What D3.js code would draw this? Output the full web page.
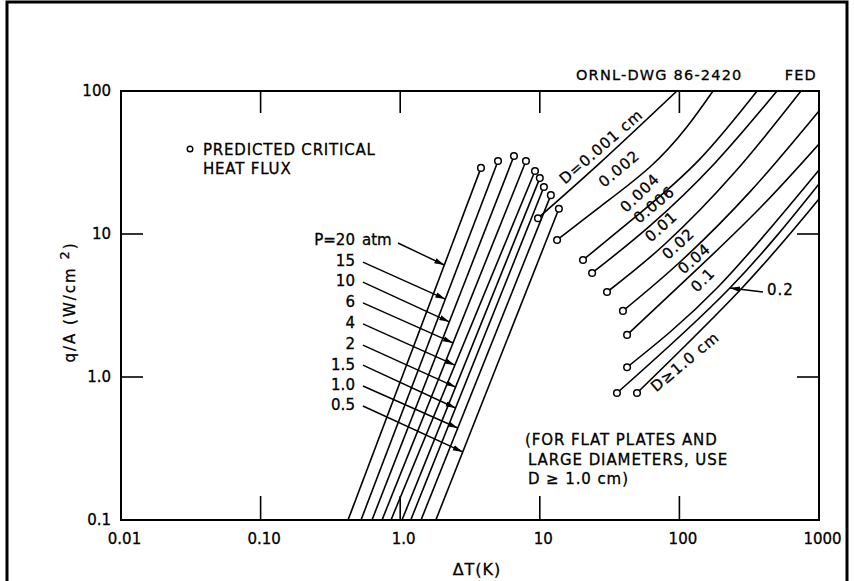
<!DOCTYPE html>
<html>
<head>
<meta charset="utf-8">
<script src="https://cdn.jsdelivr.net/npm/d3@7"></script>
<style>
  body { margin: 0; background: #fff; }
  svg text { font-family: "DejaVu Sans", sans-serif; fill: #000; stroke: #000; stroke-width: 0.3px; }
</style>
</head>
<body>
<div id="chart"></div>
<script>
///// DATA /////
const xTicks = [0.01, 0.1, 1, 10, 100, 1000];
const xTickLabels = ["0.01", "0.10", "1.0", "10", "100", "1000"];
const yTicks = [0.1, 1, 10, 100];
const yTickLabels = ["0.1", "1.0", "10", "100"];

// nucleate boiling lines, one per pressure (atm)
const pressures = ["20", "15", "10", "6", "4", "2", "1.5", "1.0", "0.5"];
const pLowT = [0.423, 0.524, 0.628, 0.741, 0.859, 1.03, 1.19, 1.41, 1.80]; // dT where q/A = 0.1
const pChfT = [3.79, 5.02, 6.53, 7.96, 9.24, 10.0, 10.7, 12.0, 13.7];    // predicted critical heat flux
const pChfQ = [29.0, 32.4, 35.1, 32.4, 27.6, 24.6, 21.3, 18.7, 15.0];
const pArrowQ = [6.07, 3.51, 2.43, 1.73, 1.21, 0.851, 0.607, 0.440, 0.299]; // where each label arrow hits
const pLabelQ = [9.08, 6.47, 4.69, 3.35, 2.39, 1.70, 1.23, 0.879, 0.637];
const pLabelT = 0.474;

// film boiling curves, one per diameter (cm)
const diameters = ["0.001", "0.002", "0.004", "0.006", "0.01", "0.02", "0.04", "0.1", "0.2", "1.0"];
const dCurveT = [
    [9.7, 27, 96],
    [13.3, 27, 61.5, 113, 174],
    [20.4, 52.2, 140, 360],
    [23.7, 61.5, 180, 500],
    [30.3, 78.8, 250, 743],
    [39.4, 101, 320, 1000],
    [42.2, 119, 378, 1000],
    [42.2, 186, 1000],
    [35.7, 230, 1000],
    [49.7, 281, 1000]
];
const dCurveQ = [
    [12.9, 31.4, 100],
    [9.08, 15.5, 29.4, 56, 100],
    [6.58, 14, 33.4, 100],
    [5.34, 11.4, 31.4, 100],
    [3.93, 8.51, 27.1, 100],
    [2.90, 6.37, 19.7, 72.5],
    [1.97, 5.09, 15.2, 42.6],
    [1.17, 4.19, 28.0],
    [0.773, 4.19, 22.4],
    [0.773, 4.19, 17.6]
];
// curve labels: text, anchor (dT, q) and angle
const dLabelText = ["D=0.001 cm", "0.002", "0.004", "0.006", "0.01", "0.02", "0.04", "0.1", null, "D\u22651.0 cm"];
const dLabelT = [28.8, 38.8, 54.8, 69.1, 77.6, 103, 134, 155, null, 115];
const dLabelQ = [38.7, 27.1, 18.4, 15.2, 10.7, 8.11, 6.37, 4.54, null, 1.21];
const dLabelAngle = [-41, -40, -44, -40, -42, -43, -41, -45, null, -40];

///// CHART /////
const width = 854, height = 581;
const x = d3.scaleLog().domain([0.01, 1000]).range([121, 819]);
const y = d3.scaleLog().domain([0.1, 100]).range([520, 91]);

const svg = d3.select("#chart").append("svg")
    .attr("width", width)
    .attr("height", height);

svg.append("rect")
    .attr("x", 7).attr("y", 2)
    .attr("width", 840).attr("height", 620)
    .attr("fill", "none").attr("stroke", "#000").attr("stroke-width", 3);

const defs = svg.append("defs");
defs.append("marker")
    .attr("id", "arr")
    .attr("viewBox", "0 0 10 10")
    .attr("refX", 10).attr("refY", 5)
    .attr("markerWidth", 10).attr("markerHeight", 10)
    .attr("markerUnits", "userSpaceOnUse")
    .attr("orient", "auto")
    .append("path")
    .attr("d", "M0,2.3 L10,5 L0,7.7 Z")
    .attr("fill", "#000");
defs.append("clipPath").attr("id", "plot")
    .append("rect")
    .attr("x", x(0.01)).attr("y", y(100))
    .attr("width", x(1000) - x(0.01)).attr("height", y(0.1) - y(100));

// frame + inward ticks
svg.append("rect")
    .attr("x", x(0.01)).attr("y", y(100))
    .attr("width", x(1000) - x(0.01)).attr("height", y(0.1) - y(100))
    .attr("fill", "none").attr("stroke", "#000").attr("stroke-width", 2);

const ticks = svg.append("g").attr("stroke", "#000").attr("stroke-width", 1.6);
const innerX = [0.1, 1, 10, 100];
const innerY = [1, 10];
ticks.selectAll(".tb").data(innerX).join("line")
    .attr("x1", d => x(d)).attr("x2", d => x(d))
    .attr("y1", y(0.1)).attr("y2", y(0.1) - 24);
ticks.selectAll(".tt").data(innerX).join("line")
    .attr("x1", d => x(d)).attr("x2", d => x(d))
    .attr("y1", y(100)).attr("y2", y(100) + 22);
ticks.selectAll(".tl").data(innerY).join("line")
    .attr("x1", x(0.01)).attr("x2", x(0.01) + 22)
    .attr("y1", d => y(d)).attr("y2", d => y(d));
ticks.selectAll(".tr").data(innerY).join("line")
    .attr("x1", x(1000)).attr("x2", x(1000) - 22)
    .attr("y1", d => y(d)).attr("y2", d => y(d));

// tick labels
const xAxis = svg.append("g")
    .attr("transform", `translate(3,${y(0.1)})`)
    .call(d3.axisBottom(x).tickValues(xTicks).tickFormat((d, i) => xTickLabels[i]).tickSize(0).tickPadding(13));
const yAxis = svg.append("g")
    .attr("transform", `translate(${x(0.01)},0)`)
    .call(d3.axisLeft(y).tickValues(yTicks).tickFormat((d, i) => yTickLabels[i]).tickSize(0).tickPadding(10));
[xAxis, yAxis].forEach(g => {
    g.select(".domain").remove();
    g.selectAll("text")
        .attr("font-family", "DejaVu Sans, sans-serif")
        .attr("font-size", 15)
        .attr("fill", "#000");
});

// axis titles
svg.append("text")
    .attr("x", 477).attr("y", 575)
    .attr("text-anchor", "middle")
    .attr("font-size", 16)
    .attr("letter-spacing", 1)
    .text("\u0394T(K)");
const yTitle = svg.append("text")
    .attr("transform", "translate(75,302) rotate(-90)")
    .attr("text-anchor", "middle")
    .attr("font-size", 15)
    .attr("letter-spacing", 2);
yTitle.append("tspan").text("q/A (W/cm ");
yTitle.append("tspan").attr("dy", -6).attr("font-size", 13).text("2");
yTitle.append("tspan").attr("dy", 6).text(")");

// drawing number
svg.append("text").attr("x", 576).attr("y", 80)
    .attr("font-size", 14.5).attr("letter-spacing", 1.2)
    .text("ORNL-DWG 86-2420");
svg.append("text").attr("x", 817).attr("y", 80)
    .attr("text-anchor", "end")
    .attr("font-size", 14.5).attr("letter-spacing", 1.2)
    .text("FED");

// legend
svg.append("circle").attr("cx", 190).attr("cy", 149).attr("r", 2.8)
    .attr("fill", "#fff").attr("stroke", "#000").attr("stroke-width", 1.4);
svg.append("text").attr("x", 203).attr("y", 155)
    .attr("font-size", 15).attr("letter-spacing", 0.8)
    .text("PREDICTED CRITICAL");
svg.append("text").attr("x", 203).attr("y", 174)
    .attr("font-size", 15).attr("letter-spacing", 0.8)
    .text("HEAT FLUX");

// note
const note = ["(FOR FLAT PLATES AND", "LARGE DIAMETERS, USE", "D \u2265 1.0 cm)"];
svg.append("g").selectAll("text").data(note).join("text")
    .attr("x", (d, i) => i === 0 ? 525 : 528)
    .attr("y", (d, i) => 445 + i * 19.5)
    .attr("font-size", 15).attr("letter-spacing", 0.9)
    .text(d => d);

const plot = svg.append("g").attr("clip-path", "url(#plot)");

// pressure lines
const pLine = (i, q) => {
    // point on the straight log-log line of pressure i at heat flux q
    const t = (Math.log10(q) - Math.log10(0.1)) / (Math.log10(pChfQ[i]) - Math.log10(0.1));
    const lx = Math.log10(pLowT[i]) + t * (Math.log10(pChfT[i]) - Math.log10(pLowT[i]));
    return [Math.pow(10, lx), q];
};
plot.append("g").selectAll("line").data(pressures).join("line")
    .attr("x1", (d, i) => x(pLowT[i])).attr("y1", y(0.1))
    .attr("x2", (d, i) => x(pChfT[i])).attr("y2", (d, i) => y(pChfQ[i]))
    .attr("stroke", "#000").attr("stroke-width", 1.6);

// film boiling curves
const curve = d3.line()
    .x(d => x(d[0]))
    .y(d => y(d[1]))
    .curve(d3.curveNatural);
plot.append("g").selectAll("path").data(diameters).join("path")
    .attr("d", (d, i) => curve(dCurveT[i].map((t, j) => [t, dCurveQ[i][j]])))
    .attr("fill", "none").attr("stroke", "#000").attr("stroke-width", 1.6);

// critical heat flux circles
const chf = pressures.map((p, i) => [pChfT[i], pChfQ[i]])
    .concat(diameters.map((d, i) => [dCurveT[i][0], dCurveQ[i][0]]));
svg.append("g").selectAll("circle").data(chf).join("circle")
    .attr("cx", d => x(d[0])).attr("cy", d => y(d[1]))
    .attr("r", 3.3)
    .attr("fill", "#fff").attr("stroke", "#000").attr("stroke-width", 1.5);

// pressure labels + arrows
const pl = svg.append("g").attr("font-size", 15);
pl.selectAll("text.num").data(pressures).join("text")
    .attr("class", "num")
    .attr("x", x(pLabelT)).attr("y", (d, i) => y(pLabelQ[i]))
    .attr("dy", "0.36em")
    .attr("text-anchor", "end")
    .text((d, i) => i === 0 ? "P=" + d : d);
pl.append("text")
    .attr("x", x(pLabelT) + 7).attr("y", y(pLabelQ[0]))
    .attr("dy", "0.36em")
    .text("atm");
pl.selectAll("line").data(pressures).join("line")
    .attr("x1", (d, i) => x(pLabelT) + (i === 0 ? 43 : 8))
    .attr("y1", (d, i) => y(pLabelQ[i]) + (i === 0 ? 3 : 1))
    .attr("x2", (d, i) => x(pLine(i, pArrowQ[i])[0]))
    .attr("y2", (d, i) => y(pArrowQ[i]))
    .attr("stroke", "#000").attr("stroke-width", 1.4)
    .attr("marker-end", "url(#arr)");

// diameter labels along the curves
const dl = svg.append("g").attr("font-size", 15).attr("letter-spacing", 1);
dl.selectAll("text").data(diameters.map((d, i) => i).filter(i => dLabelText[i])).join("text")
    .attr("transform", i => `translate(${x(dLabelT[i])},${y(dLabelQ[i])}) rotate(${dLabelAngle[i]})`)
    .attr("text-anchor", "middle")
    .attr("dy", "0.05em")
    .text(i => dLabelText[i]);

// the 0.2 curve gets a pointer label
const tip02 = [dCurveT[8][1], dCurveQ[8][1]];
svg.append("line")
    .attr("x1", x(397)).attr("y1", y(3.93))
    .attr("x2", x(tip02[0])).attr("y2", y(tip02[1]))
    .attr("stroke", "#000").attr("stroke-width", 1.4)
    .attr("marker-end", "url(#arr)");
svg.append("text")
    .attr("x", x(424)).attr("y", y(4.06))
    .attr("dy", "0.36em")
    .attr("font-size", 15).attr("letter-spacing", 1)
    .text("0.2");
</script>
</body>
</html>
